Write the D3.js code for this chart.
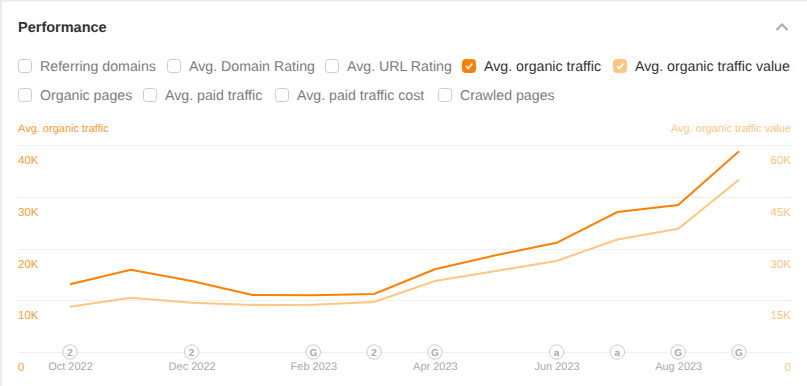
<!DOCTYPE html>
<html>
<head>
<meta charset="utf-8">
<script src="https://cdn.jsdelivr.net/npm/d3@7"></script>
<style>
  html, body { margin: 0; padding: 0; background: #fff; }
  svg { display: block; font-family: "Liberation Sans", Arial, sans-serif; text-rendering: geometricPrecision; }
  .axis path { display: none; }
  .axis line { display: none; }
</style>
</head>
<body>
<div id="chart"></div>
<script>
var months = ['Oct 2022', 'Nov 2022', 'Dec 2022', 'Jan 2023', 'Feb 2023', 'Mar 2023',
  'Apr 2023', 'May 2023', 'Jun 2023', 'Jul 2023', 'Aug 2023', 'Sep 2023'];
var monthTicks = ['Oct 2022', 'Dec 2022', 'Feb 2023', 'Apr 2023', 'Jun 2023', 'Aug 2023'];
var traffic = [13100, 15900, 13700, 11000, 10950, 11200, 16000, 18700, 21100, 27050, 28400, 38800];
var trafficValue = [13100, 15700, 14300, 13600, 13700, 14500, 20600, 23500, 26400, 32600, 35700, 49900];
var leftTicks = [0, 10000, 20000, 30000, 40000];
var rightTicks = [0, 15000, 30000, 45000, 60000];
var noteMonths = ['Oct 2022', 'Dec 2022', 'Feb 2023', 'Mar 2023', 'Apr 2023', 'Jun 2023', 'Jul 2023', 'Aug 2023', 'Sep 2023'];
var noteLabels = ['2', '2', 'G', '2', 'G', 'a', 'a', 'G', 'G'];
var row1 = ['Referring domains', 'Avg. Domain Rating', 'Avg. URL Rating', 'Avg. organic traffic', 'Avg. organic traffic value'];
var row1x = [18, 167, 325, 462, 613];
var row2 = ['Organic pages', 'Avg. paid traffic', 'Avg. paid traffic cost', 'Crawled pages'];
var row2x = [18, 143, 275, 438];

var width = 807, height = 386;
var orange = '#ff8000', light = '#ffc680';
var svg = d3.select('#chart').append('svg').attr('width', width).attr('height', height);

// page edges
svg.append('rect').attr('width', width).attr('height', 1.5).attr('fill', '#ececec');
svg.append('rect').attr('width', 2).attr('height', height).attr('fill', '#ececec');

svg.append('text').attr('x', 18).attr('y', 32).attr('font-size', 14.5).attr('font-weight', 700)
  .attr('fill', '#333').text('Performance');

// collapse chevron
svg.append('path').attr('d', 'M776.5 30 L782 24.5 L787.5 30').attr('fill', 'none')
  .attr('stroke', '#aaa').attr('stroke-width', 2);

function checkbox(x, cy, label, color) {
  var g = svg.append('g');
  g.append('rect').attr('x', x + 0.5).attr('y', cy - 6.5).attr('width', 13).attr('height', 13).attr('rx', 3)
    .attr('fill', color || '#fff').attr('stroke', color || '#ccc');
  if (color) {
    g.append('path').attr('d', 'M' + (x + 4) + ' ' + cy + ' l2.3 2.5 l4 -5').attr('fill', 'none')
      .attr('stroke', '#fff').attr('stroke-width', 1.7);
  }
  g.append('text').attr('x', x + 22).attr('y', cy + 5).attr('font-size', 14.2)
    .attr('fill', color ? '#333' : '#7c7c7c').text(label);
}
row1.forEach(function(d, i) {
  checkbox(row1x[i], 66, d, i === 3 ? orange : i === 4 ? light : null);
});
row2.forEach(function(d, i) { checkbox(row2x[i], 95, d, null); });

svg.append('text').attr('x', 18).attr('y', 132).attr('font-size', 11).attr('fill', '#ff9a33').text('Avg. organic traffic');
svg.append('text').attr('x', 791).attr('y', 132).attr('font-size', 11).attr('fill', light)
  .attr('text-anchor', 'end').text('Avg. organic traffic value');

var x = d3.scalePoint().domain(months).range([70, 739]);
var yLeft = d3.scaleLinear().domain([0, 40000]).range([352, 145]);
var yRight = d3.scaleLinear().domain([0, 60000]).range([352, 145]);

function fmt(d) { return d === 0 ? '0' : (d / 1000) + 'K'; }

// grid
svg.append('g').selectAll('line').data(leftTicks).enter().append('line')
  .attr('x1', 18).attr('x2', 791)
  .attr('y1', function(d) { return Math.round(yLeft(d)) + 0.5; })
  .attr('y2', function(d) { return Math.round(yLeft(d)) + 0.5; })
  .attr('stroke', '#f0f0f0');

// axis labels sit under their gridline
var axisL = svg.append('g').attr('class', 'axis').attr('transform', 'translate(18,0)')
  .call(d3.axisRight(yLeft).tickValues(leftTicks).tickFormat(fmt).tickSize(0).tickPadding(0));
axisL.selectAll('text').attr('dy', 18.5).attr('font-size', 11.5).attr('fill', '#ff9a33').attr('font-family', 'inherit');

var axisR = svg.append('g').attr('class', 'axis').attr('transform', 'translate(791,0)')
  .call(d3.axisLeft(yRight).tickValues(rightTicks).tickFormat(fmt).tickSize(0).tickPadding(0));
axisR.selectAll('text').attr('dy', 18.5).attr('font-size', 11.5).attr('fill', light).attr('font-family', 'inherit');

var axisX = svg.append('g').attr('class', 'axis').attr('transform', 'translate(0,352)')
  .call(d3.axisBottom(x).tickValues(monthTicks).tickSize(0).tickPadding(10.5));
axisX.selectAll('text').attr('font-size', 11).attr('fill', '#aaa').attr('font-family', 'inherit');

var lineL = d3.line().x(function(d, i) { return x(months[i]); }).y(function(d) { return yLeft(d); });
var lineR = d3.line().x(function(d, i) { return x(months[i]); }).y(function(d) { return yRight(d); });

svg.append('path').datum(trafficValue).attr('d', lineR).attr('fill', 'none').attr('stroke', light).attr('stroke-width', 2);
svg.append('path').datum(traffic).attr('d', lineL).attr('fill', 'none').attr('stroke', orange).attr('stroke-width', 2);

// annotation markers
var notes = svg.append('g').selectAll('g').data(noteMonths).enter().append('g')
  .attr('transform', function(d) { return 'translate(' + x(d) + ',352)'; });
notes.append('circle').attr('r', 7.2).attr('fill', '#fff').attr('stroke', '#ccc');
notes.append('text').attr('text-anchor', 'middle').attr('y', 3.5).attr('font-size', 10).attr('font-weight', 700)
  .attr('fill', '#aaa').text(function(d, i) { return noteLabels[i]; });
</script>
</body>
</html>
